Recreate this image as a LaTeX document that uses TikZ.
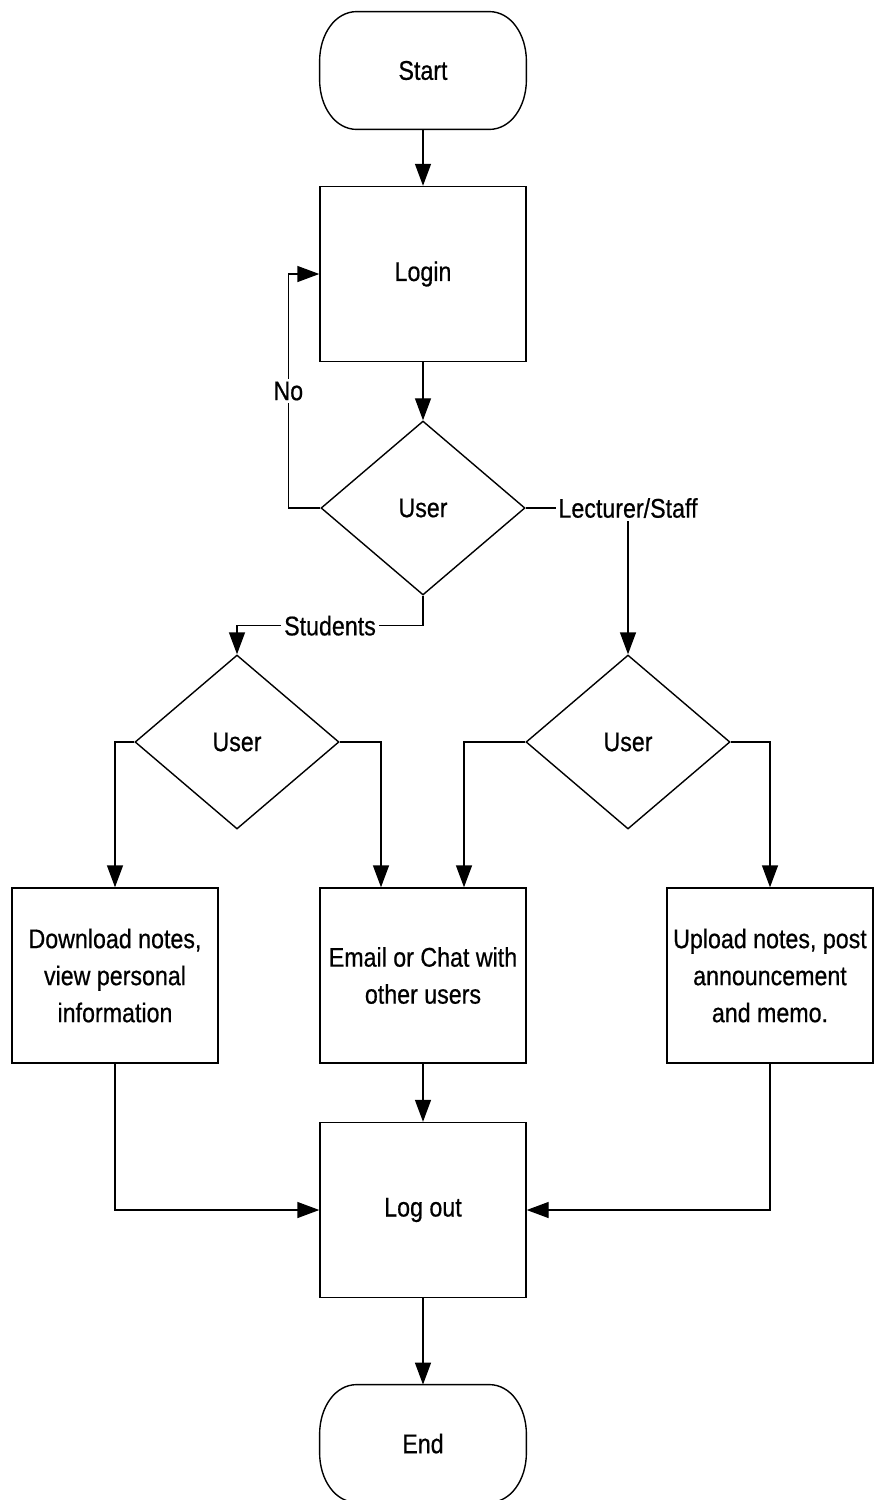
\documentclass[tikz,border=0pt]{standalone}
\usepackage{fontspec}
\setmainfont{Liberation Sans}[FakeStretch=0.86,FakeBold=0.6]
\usetikzlibrary{shapes.geometric,arrows.meta,calc}

% outline of a terminal (start/end) symbol drawn around a named node
\newcommand\terminalpath[1]{%
  \draw[line width=0.7pt]
    ($(#1.north west)+(37,0)$) -- ($(#1.north east)+(-37,0)$)
    .. controls ($(#1.north east)+(-16,0)$) and ($(#1.north east)+(0,22)$) .. ($(#1.east)+(0,-9)$)
    -- ($(#1.east)+(0,9)$)
    .. controls ($(#1.south east)+(0,-22)$) and ($(#1.south east)+(-16,0)$) .. ($(#1.south east)+(-37,0)$)
    -- ($(#1.south west)+(37,0)$)
    .. controls ($(#1.south west)+(16,0)$) and ($(#1.south west)+(0,-22)$) .. ($(#1.west)+(0,9)$)
    -- ($(#1.west)+(0,-9)$)
    .. controls ($(#1.north west)+(0,22)$) and ($(#1.north west)+(16,0)$) .. cycle;}

\tikzset{
  every node/.style={font=\fontsize{13.5pt}{18.5pt}\selectfont},
  term/.style={rectangle, minimum width=103pt, minimum height=58.5pt, inner sep=0pt},
  procbox/.style={rectangle, draw, line width=0.7pt, minimum width=103pt,
    minimum height=87.5pt, align=center, inner sep=2pt},
  decide/.style={diamond, draw, line width=0.7pt, minimum width=102pt,
    minimum height=87pt, inner sep=0pt},
  flow/.style={draw, line width=0.7pt, -{Triangle[length=11pt,width=8pt]}},
  lbl/.style={fill=white, inner sep=1.5pt}
}

\begin{document}
\begin{tikzpicture}[x=0.5pt,y=-0.5pt]
\useasboundingbox (0,0) rectangle (875,1500);

% nodes
\node[term] (start) at (423,70.5) {Start};
\node[procbox] (login) at (423,274) {Login};
\node[decide] (dec1) at (423,508) {User};
\node[decide] (dec2) at (237,742) {User};
\node[decide] (dec3) at (628,742) {User};
\node[procbox] (dl) at (115,975.5) {Download notes,\\view personal\\information};
\node[procbox] (email) at (423,975.5) {Email or Chat with\\other users};
\node[procbox] (up) at (770,975.5) {Upload notes, post\\announcement\\and memo.};
\node[procbox] (logout) at (423,1210) {Log out};
\node[term] (end) at (423,1443.5) {End};

\terminalpath{start}
\terminalpath{end}

% connectors
\draw[flow] (start) -- (login);
\draw[flow] (login) -- (dec1);
\draw[flow] (dec1.west) -- ++(-32,0) |- node[pos=0.25,lbl]{No} (login.west);
\draw[flow] (dec1.south) -- ++(0,30) -| node[pos=0.25,lbl]{Students} (dec2.north);
\draw[flow] (dec1.east) -| node[pos=0.5,lbl]{Lecturer/Staff} (dec3.north);
\draw[flow] (dec2.west) -| (dl.north);
\draw[flow] (dec2.east) -| ($(email.north)+(-42,0)$);
\draw[flow] (dec3.west) -| ($(email.north)+(41,0)$);
\draw[flow] (dec3.east) -| (up.north);
\draw[flow] (email) -- (logout);
\draw[flow] (dl.south) |- (logout.west);
\draw[flow] (up.south) |- (logout.east);
\draw[flow] (logout) -- (end);
\end{tikzpicture}
\end{document}
